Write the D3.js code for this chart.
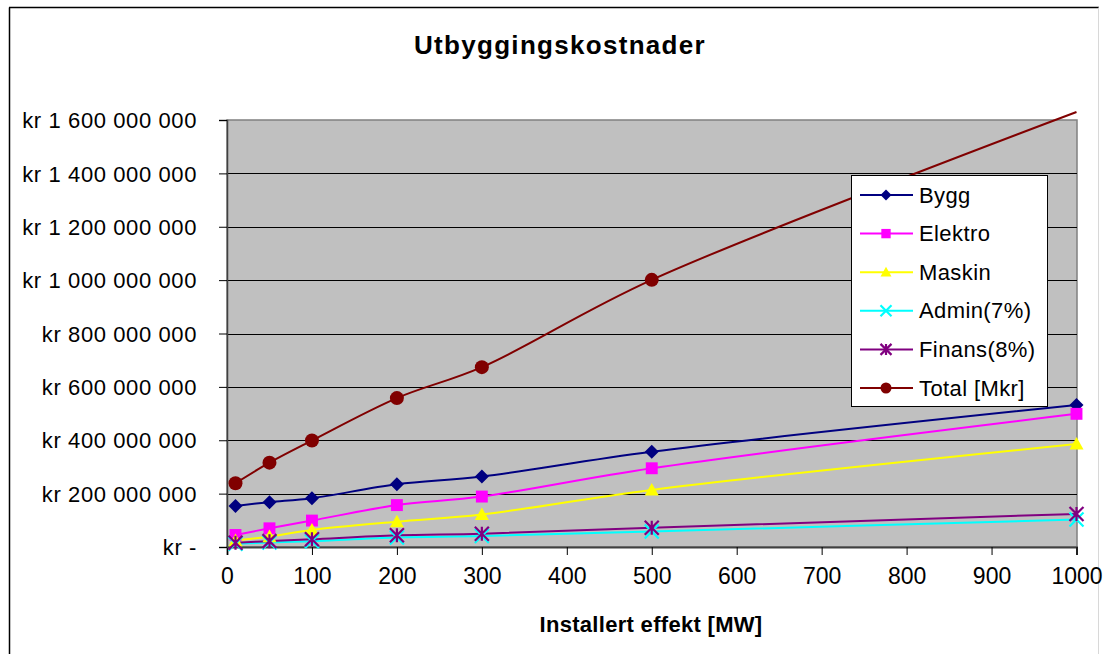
<!DOCTYPE html>
<html>
<head>
<meta charset="utf-8">
<script src="https://cdn.jsdelivr.net/npm/d3@7"></script>
<style>
  body { margin: 0; background: #fff; }
  text { font-family: Arial, "Liberation Sans", sans-serif; fill: #000; }
</style>
</head>
<body>
<div id="chart"></div>
<script>
// data (values in millioner kr)
var effekt = [10, 50, 100, 200, 300, 500, 1000];
var bygg = [154, 168, 183, 235, 264, 357, 532];
var elektro = [45, 70, 99, 157, 189, 295, 499];
var maskin = [24, 39, 64, 95, 122, 214, 386];
var admin = [12, 17, 22, 36, 41, 58, 103];
var finans = [16, 22, 29, 44, 50, 72, 124];
var total = [239, 316, 399, 558, 674, 1001, 1630];

var seriesNames = ["Bygg", "Elektro", "Maskin", "Admin(7%)", "Finans(8%)", "Total [Mkr]"];
var xTicks = [0, 100, 200, 300, 400, 500, 600, 700, 800, 900, 1000];
var yTicks = [0, 200, 400, 600, 800, 1000, 1200, 1400, 1600];
var yTickLabels = ["kr -", "kr 200 000 000", "kr 400 000 000", "kr 600 000 000", "kr 800 000 000",
                   "kr 1 000 000 000", "kr 1 200 000 000", "kr 1 400 000 000", "kr 1 600 000 000"];

var w = 1106, h = 654;
var plotLeft = 227, plotRight = 1077, plotTop = 120, plotBottom = 547;
var fontFam = "Arial, 'Liberation Sans', sans-serif";

var svg = d3.select("#chart").append("svg")
    .attr("width", w)
    .attr("height", h);

// outer chart border
svg.append("line").attr("x1", 9.5).attr("x2", 9.5).attr("y1", 7.5).attr("y2", h)
    .attr("stroke", "#000").attr("stroke-width", 1.5);
svg.append("line").attr("x1", 9).attr("x2", 1099).attr("y1", 7.5).attr("y2", 7.5)
    .attr("stroke", "#000").attr("stroke-width", 1.5);
svg.append("line").attr("x1", 1098.5).attr("x2", 1098.5).attr("y1", 7.5).attr("y2", h)
    .attr("stroke", "#d8d8d8").attr("stroke-width", 1);

var x = d3.scaleLinear().domain([0, 1000]).range([plotLeft, plotRight - 0.5]);
var y = d3.scaleLinear().domain([0, 1600]).range([plotBottom, plotTop]);

// plot area
svg.append("rect")
    .attr("x", plotLeft).attr("y", plotTop)
    .attr("width", plotRight - plotLeft).attr("height", plotBottom - plotTop)
    .attr("fill", "#c0c0c0")
    .attr("stroke", "#808080").attr("stroke-width", 1.5);

// gridlines
svg.append("g").selectAll("line")
    .data(yTicks.slice(1, -1))
    .enter().append("line")
    .attr("x1", plotLeft).attr("x2", plotRight)
    .attr("y1", function (d) { return Math.round(y(d)) + 0.5; })
    .attr("y2", function (d) { return Math.round(y(d)) + 0.5; })
    .attr("stroke", "#000").attr("stroke-width", 1);

// axes
var xAxis = d3.axisBottom(x).tickValues(xTicks).tickSize(8).tickPadding(12)
    .tickFormat(d3.format("d"));
var yAxis = d3.axisLeft(y).tickValues(yTicks).tickSize(8).tickPadding(22)
    .tickFormat(function (d, i) { return yTickLabels[i]; });

var gx = svg.append("g")
    .attr("transform", "translate(0," + plotBottom + ")")
    .call(xAxis);
gx.select(".domain").attr("stroke", "#404040").attr("stroke-width", 2);
gx.selectAll(".tick line").attr("stroke", "#000");
gx.selectAll(".tick text").attr("font-size", 23).attr("dy", "0.72em")
    .attr("font-family", fontFam);

var gy = svg.append("g")
    .attr("transform", "translate(" + plotLeft + ",0)")
    .call(yAxis);
gy.select(".domain").attr("stroke", "#404040").attr("stroke-width", 1.5);
gy.selectAll(".tick line").attr("stroke", "#000");
gy.selectAll(".tick text").attr("font-size", 22).attr("letter-spacing", 0.6)
    .attr("dy", "0.35em").attr("font-family", fontFam);

// title and axis title
svg.append("text")
    .attr("x", 560).attr("y", 54)
    .attr("text-anchor", "middle")
    .attr("font-size", 26).attr("font-weight", "bold").attr("letter-spacing", 1.3)
    .text("Utbyggingskostnader");

svg.append("text")
    .attr("x", 651).attr("y", 632)
    .attr("text-anchor", "middle")
    .attr("font-size", 22).attr("font-weight", "bold").attr("letter-spacing", 0.3)
    .text("Installert effekt [MW]");

// series
var colors = ["#000080", "#ff00ff", "#ffff00", "#00ffff", "#800080", "#800000"];
var shapes = ["diamond", "square", "triangle", "x", "star", "circle"];
var values = [bygg, elektro, maskin, admin, finans, total];

var series = seriesNames.map(function (name, i) {
    return {
        name: name, color: colors[i], shape: shapes[i],
        points: effekt.map(function (e, j) { return { x: e, y: values[i][j] }; })
    };
});

var line = d3.line()
    .x(function (d) { return x(d.x); })
    .y(function (d) { return y(d.y); })
    .curve(d3.curveCatmullRom.alpha(0.5));

function drawMarker(g, shape, color, s) {
    if (shape == "diamond") {
        g.append("path").attr("d", "M0," + (-s) + "L" + s + ",0L0," + s + "L" + (-s) + ",0Z").attr("fill", color);
    } else if (shape == "square") {
        g.append("rect").attr("x", -s * 0.85).attr("y", -s * 0.85).attr("width", s * 1.7).attr("height", s * 1.7).attr("fill", color);
    } else if (shape == "triangle") {
        g.append("path").attr("d", "M0," + (-s) + "L" + s + "," + (s * 0.8) + "L" + (-s) + "," + (s * 0.8) + "Z").attr("fill", color);
    } else if (shape == "x") {
        g.append("path").attr("d", "M" + (-s) + "," + (-s) + "L" + s + "," + s + "M" + (-s) + "," + s + "L" + s + "," + (-s))
            .attr("stroke", color).attr("stroke-width", 2.2);
    } else if (shape == "star") {
        g.append("path").attr("d", "M" + (-s) + "," + (-s) + "L" + s + "," + s + "M" + (-s) + "," + s + "L" + s + "," + (-s) + "M0," + (-s) + "L0," + s)
            .attr("stroke", color).attr("stroke-width", 2.2);
    } else {
        g.append("circle").attr("r", s).attr("fill", color);
    }
}

series.forEach(function (s) {
    svg.append("path")
        .datum(s.points)
        .attr("d", line)
        .attr("fill", "none")
        .attr("stroke", s.color)
        .attr("stroke-width", 2);
});

// markers are only drawn for points inside the value axis range
series.forEach(function (s) {
    s.points.filter(function (p) { return p.y <= y.domain()[1]; }).forEach(function (p) {
        var g = svg.append("g").attr("transform", "translate(" + x(p.x) + "," + y(p.y) + ")");
        drawMarker(g, s.shape, s.color, 7);
    });
});

// legend
var lg = svg.append("g");
lg.append("rect")
    .attr("x", 851.5).attr("y", 175.5)
    .attr("width", 196).attr("height", 231)
    .attr("fill", "#fff").attr("stroke", "#000").attr("stroke-width", 1);

series.forEach(function (s, i) {
    var ly = 195 + i * 38.6;
    lg.append("line")
        .attr("x1", 860).attr("x2", 913)
        .attr("y1", ly).attr("y2", ly)
        .attr("stroke", s.color).attr("stroke-width", 2);
    var g = lg.append("g").attr("transform", "translate(886," + ly + ")");
    drawMarker(g, s.shape, s.color, 5.5);
    lg.append("text")
        .attr("x", 919).attr("y", ly + 7.5)
        .attr("font-size", 22).attr("letter-spacing", 0.4)
        .text(s.name);
});
</script>
</body>
</html>
